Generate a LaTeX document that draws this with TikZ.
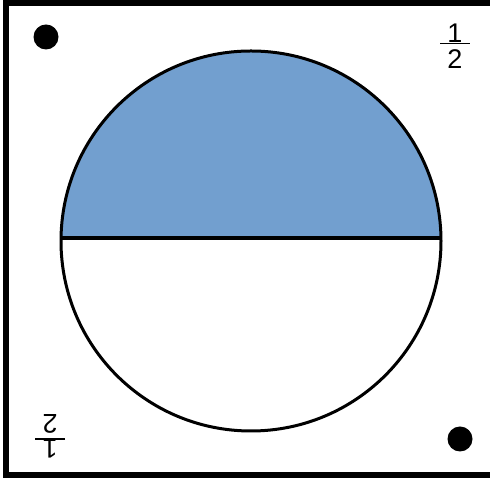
\documentclass[tikz,border=0pt]{standalone}
\usepackage{fontspec}
\setmainfont{Liberation Sans}
\definecolor{halfblue}{HTML}{729FCF}
\newcommand\halffrac{\vbox{\hsize=30pt\offinterlineskip
  \centerline{1}\hrule height 1.6pt\kern5pt\centerline{2}}}
\tikzset{
  frame/.style={line width=6pt},
  rim/.style={line width=3pt},
  chordline/.style={line width=3.5pt},
  dot/.style={circle, fill=black, inner sep=0pt, minimum size=25pt},
  frac/.style={inner sep=0pt, font=\fontsize{27}{30}\selectfont}
}
\begin{document}
\begin{tikzpicture}[x=1pt,y=1pt]
\useasboundingbox (0,0) rectangle (490,478);
% frame
\coordinate (tl) at (6,478);
\coordinate (bl) at (6,0);
\coordinate (t0) at (3,475);
\coordinate (t1) at (490,475);
\coordinate (b0) at (3,3);
\coordinate (b1) at (490,3);
\draw[frame] (tl) -- (bl);
\draw[frame] (t0) -- (t1);
\draw[frame] (b0) -- (b1);
% circle
\coordinate (c) at (251,237);
\begin{scope}
  \clip (40,240) rectangle (460,440);
  \fill[halfblue] (c) circle (190);
\end{scope}
\node[circle, minimum size=380pt, inner sep=0pt, draw, rim] (circ) at (c) {};
\coordinate (chl) at (61.5,240);
\coordinate (chr) at (440.5,240);
\draw[chordline] (chl) -- (chr);
% dots
\node[dot] (d1) at (46,441) {};
\node[dot] (d2) at (460,39) {};
% fractions
\node[frac] (f1) at (455,432) {\halffrac};
\node[frac, rotate=180] (f2) at (50,41.5) {\halffrac};
\end{tikzpicture}
\end{document}
